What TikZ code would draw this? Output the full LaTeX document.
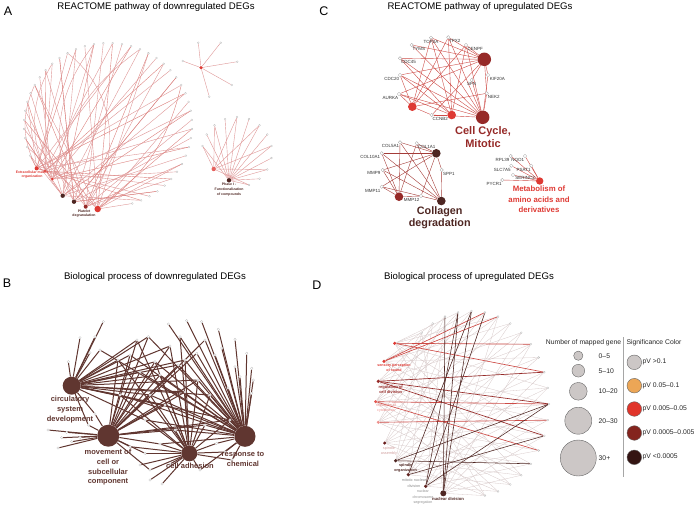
\documentclass[tikz,border=0pt]{standalone}
\usepackage{fontspec}
\setmainfont{Liberation Sans}
\usepackage{tikz}
\usetikzlibrary{positioning,shapes}
\pgfdeclarelayer{bg}
\pgfsetlayers{bg,main}

\definecolor{hubred}{RGB}{222,58,52}
\definecolor{hubdkred}{RGB}{150,42,40}
\definecolor{hubdark}{RGB}{78,38,34}
\definecolor{bpbrown}{RGB}{96,54,48}
\definecolor{edgered}{RGB}{205,75,70}
\definecolor{edgepink}{RGB}{222,150,150}
\definecolor{edgegrey}{RGB}{214,200,200}
\definecolor{legfill}{RGB}{204,199,198}
\definecolor{legorange}{RGB}{236,166,86}
\definecolor{legred}{RGB}{224,52,42}
\definecolor{legdkred}{RGB}{132,36,30}
\definecolor{legblack}{RGB}{52,20,18}

\tikzstyle{gene} = [circle, draw=gray!80, fill=white, line width=0.25pt, inner sep=0pt, minimum size=3.4pt]
\tikzstyle{tinygene} = [circle, draw=gray!60, fill=white, line width=0.2pt, inner sep=0pt, minimum size=2pt]
\tikzstyle{hub} = [circle, inner sep=0pt]
\tikzstyle{glab} = [font=\fontsize{4.5}{5}\selectfont, text=black!80, inner sep=0.4pt]
\tikzstyle{panel} = [font=\fontsize{12.5}{14}\selectfont, text=black]
\tikzstyle{ptitle} = [font=\fontsize{9.6}{11}\selectfont, text=black]
\tikzstyle{redge} = [draw=edgered, line width=0.4pt]
\tikzstyle{aedge} = [draw=edgepink, line width=0.4pt]
\tikzstyle{bedge} = [draw=bpbrown, line width=1pt]
\tikzstyle{dedge} = [draw=edgegrey, line width=0.3pt]
\tikzstyle{legc} = [circle, draw=black!60, line width=0.4pt, inner sep=0pt]
\tikzstyle{legt} = [font=\fontsize{6.8}{8}\selectfont, text=black!85, anchor=west, inner sep=0pt]
\tikzstyle{golab} = [align=center, inner sep=0pt]

\begin{document}
\begin{tikzpicture}[x=1pt,y=-1pt]
\useasboundingbox (0,0) rectangle (698,509);

% ---------------- A ----------------
\node[panel] (lA) at (8,11) {A};
\node[ptitle] (tA) at (156,7) {REACTOME pathway of downregulated DEGs};

\foreach \n/\x/\y/\c/\s in {1/36.7/168.3/hubred/4.2pt, 2/45/171/hubred/2.4pt, 3/52.3/179/hubred/3pt,
    4/62.7/195.7/hubdark/4.4pt, 5/74/201.7/hubdark/4.4pt, 6/85.7/206.7/hubdkred/4pt, 7/97.7/209/hubred/6.5pt}
  \node[hub, fill=\c, minimum size=\s] (pa\n) at (\x,\y) {};

\foreach \i in {1,...,44} {
  \pgfmathsetmacro\ang{202-(\i-1)*6.4}
  \node[tinygene] (ga\i) at ({108+84*cos(\ang)},{125-82*sin(\ang)}) {};
  \pgfmathtruncatemacro\h{mod(\i*3,7)+1}
  \pgfmathtruncatemacro\k{mod(\i*5+2,7)+1}
  \begin{pgfonlayer}{bg}
  \draw[aedge] (pa\h) -- (ga\i);
  \ifodd\i \draw[aedge, draw=edgered!70] (pa\k) -- (ga\i); \fi
  \end{pgfonlayer}
}
\begin{pgfonlayer}{bg}
\draw[aedge] (pa4) to[bend left=35] (ga12);
\draw[aedge] (pa5) to[bend left=30] (ga17);
\draw[aedge] (pa1) to[bend left=25] (ga9);
\draw[aedge] (pa6) to[bend right=45] (ga14);
\draw[aedge] (pa3) to[bend left=20] (ga22);
\draw[aedge, draw=edgered!70] (pa7) to[bend right=20] (ga28);
\end{pgfonlayer}

\node[golab, font=\bfseries\fontsize{3.5}{4.2}\selectfont, text=hubred] (lpa1) at (32,174.7) {Extracellular matrix\\organization};
\node[golab, font=\bfseries\fontsize{3.5}{4.6}\selectfont, text=hubdark] (lpa6) at (84,213.7) {Platelet\\degranulation};

% small star cluster
\node[hub, fill=hubred, minimum size=3.6pt] (sa0) at (201,67.7) {};
\foreach \n/\x/\y in {1/198.3/42.7, 2/220.7/42.7, 3/182.7/61, 4/237.3/61.7, 5/231.7/85, 6/209.3/96.7} {
  \node[tinygene] (sa\n) at (\x,\y) {};
  \begin{pgfonlayer}{bg}\draw[aedge] (sa0) -- (sa\n);\end{pgfonlayer}
}

% phase I cluster
\node[hub, fill=hubdark, minimum size=4.4pt] (qa1) at (229,180.3) {};
\node[hub, fill=hubred!80!white, minimum size=4.4pt] (qa2) at (213.7,169) {};
\foreach \i in {1,...,13} {
  \pgfmathsetmacro\ang{170-(\i-1)*20}
  \node[tinygene] (qg\i) at ({237+35*cos(\ang)},{152-35*sin(\ang)}) {};
  \begin{pgfonlayer}{bg}
  \draw[aedge] (qa1) -- (qg\i);
  \ifodd\i \draw[aedge] (qa2) -- (qg\i); \fi
  \end{pgfonlayer}
}
\node[golab, font=\bfseries\fontsize{3.5}{5.3}\selectfont, text=hubdark] (lqa1) at (229,189.7) {Phase I -\\Functionalization\\of compounds};

% ---------------- C ----------------
\node[panel] (lC) at (324,11) {C};
\node[ptitle] (tC) at (480,7) {REACTOME pathway of upregulated DEGs};

\node[hub, fill=hubdkred, minimum size=13.5pt] (cc1) at (484.3,59.3) {};
\node[hub, fill=hubdkred, minimum size=13.5pt] (cc2) at (482.7,117.3) {};
\node[hub, fill=hubred, minimum size=8.6pt] (cc3) at (412.3,106.7) {};
\node[hub, fill=hubred, minimum size=8.6pt] (cc4) at (451.7,115) {};

\foreach \n/\x/\y/\a/\t/\hs in {
    1/431/37.7/-90/TOP2A/{1,2,3,4}, 2/448.3/37.3/-80/TPX2/{1,2,3,4}, 3/466/45/-60/CENPF/{1,2,3,4},
    4/411.7/45/-80/TYMS/{1,2}, 5/400/58.3/-75/CDC45/{1,2,4}, 6/400/75/-100/CDC20/{1,2,3,4},
    7/399/94/-95/AURKA/{1,2,3,4}, 8/431.7/115/-80/CCNB2/{1,2,3,4}, 9/471.7/80/-90/SFN/{1,2},
    10/488/75/-45/KIF20A/{1,2}, 11/486.7/93.3/-70/NEK2/{1,2,3}} {
  \node[gene, label={[glab]\a:\t}] (cg\n) at (\x,\y) {};
  \begin{pgfonlayer}{bg}
  \foreach \h in \hs {\draw[redge] (cc\h) -- (cg\n);}
  \end{pgfonlayer}
}
\node[golab, font=\bfseries\fontsize{11}{13}\selectfont, text=hubdkred] (lcc) at (483,137.5) {Cell Cycle,\\Mitotic};

% collagen
\node[hub, fill=hubdark, minimum size=8.6pt] (co1) at (436.3,153.3) {};
\node[hub, fill=hubdkred, minimum size=8.6pt] (co2) at (399,196.7) {};
\node[hub, fill=hubdark, minimum size=8.6pt] (co3) at (441.3,201) {};
\foreach \n/\x/\y/\a/\t/\hs in {
    1/400/142.3/-95/COL5A1/{1,2,3}, 2/416.7/143.3/-60/COL1A1/{1,2,3}, 3/381.7/153.3/-120/COL10A1/{1,2,3},
    4/382.7/170/200/MMP9/{1,2,3}, 5/381.7/186.7/-115/MMP11/{1,2,3}, 6/441.7/170/-60/SPP1/{1,3},
    7/421/196/-120/MMP12/{1,2}} {
  \node[gene, label={[glab]\a:\t}] (cog\n) at (\x,\y) {};
  \begin{pgfonlayer}{bg}
  \foreach \h in \hs {\draw[redge, draw=edgered!80!black] (co\h) -- (cog\n);}
  \end{pgfonlayer}
}
\node[golab, font=\bfseries\fontsize{10.8}{12}\selectfont, text=hubdark] (lco) at (439.7,217.3) {Collagen\\degradation};

% metabolism
\node[hub, fill=hubred, minimum size=7.4pt] (me1) at (539.7,181) {};
\foreach \n/\x/\y/\a/\t in {1/510.7/156/-110/RPL39, 2/525/156/-100/NQO1, 3/511.3/165.7/-95/SLC7A5,
    4/531.3/165.7/-95/PSAT1, 5/513/175/-20/SERINC2, 6/502.3/180/-95/PYCR1} {
  \node[gene, label={[glab]\a:\t}] (mg\n) at (\x,\y) {};
  \begin{pgfonlayer}{bg}\draw[redge] (me1) -- (mg\n);\end{pgfonlayer}
}
\node[golab, font=\bfseries\fontsize{7.8}{10.2}\selectfont, text=hubred] (lme) at (539,199.3) {Metabolism of\\amino acids and\\derivatives};

% ---------------- B ----------------
\node[panel] (lB) at (7,283) {B};
\node[ptitle] (tB) at (155,277) {Biological process of downregulated DEGs};

\foreach \n/\x/\y/\s in {1/71.7/385.7/18pt, 2/108.3/435.7/22pt, 3/189.3/453.3/16pt, 4/245/436.3/21pt}
  \node[hub, fill=bpbrown, minimum size=\s] (bh\n) at (\x,\y) {};

\foreach \n/\x/\y/\hs in {
    1/103.3/321.7/{1}, 2/80/337.7/{1}, 3/95/336.7/{1}, 4/90/352.7/{1}, 5/68.3/361.7/{1},
    6/148.3/336.7/{1,2,4}, 7/137/340/{1,2,3}, 8/130/355/{1,2,4}, 9/155/361.7/{1,2,3,4},
    10/178.3/365/{1,2,4}, 11/170/346/{1,2,3}, 12/160/375/{1,2,3,4}, 13/140/372/{1,2,4},
    14/198/380/{1,2,3,4}, 15/185/392/{1,2,3},
    16/168.3/324/{4}, 17/186.7/320.7/{4}, 18/201.7/321.7/{4}, 19/218.3/329.3/{4}, 20/235/339.3/{4},
    21/246.7/353.3/{4}, 22/251.7/368.3/{4}, 23/253.3/380/{4}, 24/251.7/393.3/{4}, 25/180/336.7/{3,4},
    26/196.7/353.3/{2,4}, 27/215/355/{4}, 28/221.7/348/{4}, 29/235/366.7/{4}, 30/240/376.7/{4},
    31/205/340/{2,4}, 32/228/388/{4},
    33/66.7/432.3/{2}, 34/61.7/437.7/{2}, 35/80/437.3/{2}, 36/71.7/441.7/{2}, 37/88.3/425/{1,2},
    38/95/414/{1,2},
    39/130/446.7/{2,3}, 40/145/453.3/{2,3}, 41/140/465/{3}, 42/150/470/{2,3}, 43/160/444/{2,3,4},
    44/216.7/443.3/{3,4}, 45/225/452/{3,4}, 46/232/460/{3,4}, 47/175/430/{2,3,4}, 48/205/425/{2,3,4},
    49/118/360/{1,2,3}, 50/150/395/{1,2,3,4}, 51/165/405/{1,2,4}, 52/210/395/{1,3,4}, 53/120/395/{1,3,4},
    54/185/360/{1,3,4}, 55/145/420/{1,3,4}, 56/230/420/{1,2,3}, 57/100/350/{1,4}, 58/48/430/{2},
    59/58/448/{2}, 60/150/480/{3}, 61/162/484/{3}, 62/200/470/{3,4}, 63/170/464/{3}} {
  \node[tinygene, minimum size=2.6pt] (bg\n) at (\x,\y) {};
  \begin{pgfonlayer}{bg}
  \foreach \h in \hs {\draw[bedge] (bh\h) -- (bg\n);}
  \end{pgfonlayer}
}
\node[golab, font=\bfseries\fontsize{7.5}{10}\selectfont, text=bpbrown] (lbh1) at (70,409.7) {circulatory\\system\\development};
\node[golab, font=\bfseries\fontsize{7.5}{9.7}\selectfont, text=bpbrown] (lbh2) at (108,467.5) {movement of\\cell or\\subcellular\\component};
\node[golab, font=\bfseries\fontsize{7.5}{10}\selectfont, text=bpbrown] (lbh3) at (190,466.3) {cell adhesion};
\node[golab, font=\bfseries\fontsize{7.5}{10}\selectfont, text=bpbrown] (lbh4) at (243,459) {response to\\chemical};

% ---------------- D ----------------
\node[panel] (lD) at (317,285) {D};
\node[ptitle] (tD) at (469,277) {Biological process of upregulated DEGs};

\foreach \i in {1,...,22} {
  \pgfmathsetmacro\ang{130-(\i-1)*10}
  \node[tinygene] (dg\i) at ({471.5+77.5*cos(\ang)},{404-93*sin(\ang)}) {};
}
\foreach \n/\x/\y/\c/\s in {1/394.7/343.3/hubred/3.4pt, 2/384/361.3/hubred/3.4pt, 3/378.3/381.3/hubdkred/3.6pt,
    4/375.7/401.7/hubred!85!white/3.4pt, 5/378.3/422.3/hubred!55!white/3.4pt, 6/384.7/443/hubdkred!70!black/3.4pt,
    7/395.7/460.7/hubdark/3.6pt, 8/408.3/474.7/hubdark!90!red/3.6pt, 9/425.7/486.3/hubdark!90!red/3.6pt,
    10/443.3/493.3/hubdark/6pt}
  \node[hub, fill=\c, minimum size=\s] (dt\n) at (\x,\y) {};

\begin{pgfonlayer}{bg}
\foreach \t in {1,...,10} {
  \foreach \g in {1,...,22} {
    \pgfmathtruncatemacro\r{mod(\t*5+\g*7,3)}
    \ifnum\r=0 \draw[dedge] (dt\t) -- (dg\g); \fi
  }
}
\foreach \t/\g in {1/10, 1/12, 2/7, 2/6, 4/14, 4/17, 5/15}
  \draw[redge, line width=0.65pt] (dt\t) -- (dg\g);
\foreach \t/\g in {3/14, 3/16, 3/12}
  \draw[redge, draw=hubdkred, line width=0.65pt] (dt\t) -- (dg\g);
\foreach \t/\g in {7/14, 7/18, 8/5, 8/16, 9/4, 9/6, 9/14, 10/4, 10/5, 10/3}
  \draw[draw=hubdark, line width=0.55pt] (dt\t) -- (dg\g);
\end{pgfonlayer}

\node[golab, font=\bfseries\fontsize{3.6}{4.8}\selectfont, text=hubred] (ldt2) at (394,368) {sensory perception\\of sound};
\node[golab, font=\bfseries\fontsize{4}{5.6}\selectfont, text=hubdkred] (ldt3) at (390.7,389.5) {regulation of\\cell division};
\node[golab, font=\fontsize{3.6}{4.6}\selectfont, text=hubred!60!white] (ldt4) at (386,408) {regulation of\\cytokinesis};
\node[golab, font=\fontsize{3.8}{5}\selectfont, text=hubdkred!45!white] (ldt6) at (389,451.5) {spindle\\assembly};
\node[golab, font=\bfseries\fontsize{3.8}{5}\selectfont, text=hubdark] (ldt7) at (405.7,468.2) {spindle\\organization};
\node[golab, font=\fontsize{3.8}{6}\selectfont, text=black!45] (ldt8) at (414,483) {mitotic nuclear\\division};
\node[golab, font=\fontsize{3.6}{5.6}\selectfont, text=black!45] (ldt9) at (423,497.3) {nuclear\\chromosome\\segregation};
\node[golab, font=\bfseries\fontsize{4.2}{5}\selectfont, text=hubdark] (ldt10) at (448,498.5) {nuclear division};

% legend
\node[legt, anchor=center] (lgn) at (583.5,342.3) {Number of mapped gene};
\node[legt, anchor=center] (lgs) at (654,342.3) {Significance Color};
\coordinate (dv1) at (623,337);
\coordinate (dv2) at (623,477);
\draw[gray!70, line width=0.4pt] (dv1) -- (dv2);

\foreach \n/\y/\d/\t in {1/355.7/9.3pt/0--5, 2/370.7/12.7pt/5--10, 3/391.3/17.7pt/10--20,
    4/420.7/27pt/20--30, 5/458/36pt/30+} {
  \node[legc, fill=legfill, minimum size=\d] (sz\n) at (578.3,\y) {};
  \node[legt] (szl\n) at (598.5,\y) {\t};
}
\foreach \n/\y/\c/\t in {1/362.3/legfill/{pV >0.1}, 2/385.7/legorange/{pV 0.05--0.1}, 3/409/legred/{pV 0.005--0.05},
    4/433/legdkred/{pV 0.0005--0.005}, 5/457.3/legblack/{pV <0.0005}} {
  \node[legc, fill=\c, minimum size=14.6pt] (sc\n) at (634.3,\y) {};
  \node[legt] (scl\n) at (642.5,\y) {\t};
}

\end{tikzpicture}
\end{document}
